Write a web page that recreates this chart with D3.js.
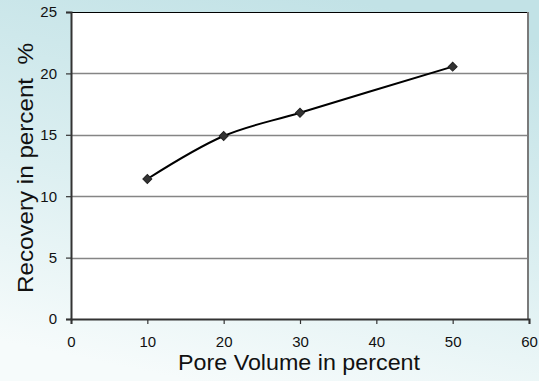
<!DOCTYPE html>
<html>
<head>
<meta charset="utf-8">
<script src="https://cdn.jsdelivr.net/npm/d3@7"></script>
<style>
  body { margin: 0; }
  svg { display: block; font-family: "Liberation Sans", Arial, sans-serif; }
</style>
</head>
<body>
<svg width="539" height="381"></svg>
<script>
// pore volume (x) vs recovery (y)
const poreVolume = [10, 20, 30, 50]
const recovery = [11.4, 14.9, 16.8, 20.55]
const xTicks = [0, 10, 20, 30, 40, 50, 60]
const yTicks = [0, 5, 10, 15, 20, 25]

const width = 539
const height = 381
const margin = { top: 12, right: 10, bottom: 62, left: 71 }
const w = width - margin.left - margin.right
const h = height - margin.top - margin.bottom

const svg = d3.select('svg')

// background gradient
const grad = svg.append('defs').append('linearGradient')
    .attr('id', 'bg')
    .attr('x1', '0.65').attr('y1', '0')
    .attr('x2', '0.35').attr('y2', '1')
grad.append('stop').attr('offset', '0').attr('stop-color', '#c2e2e6')
grad.append('stop').attr('offset', '0.55').attr('stop-color', '#dceff1')
grad.append('stop').attr('offset', '1').attr('stop-color', '#f6fbfb')
svg.append('rect').attr('width', width).attr('height', height).attr('fill', 'url(#bg)')

const x = d3.scaleLinear().domain([0, 60]).range([0, w])
const y = d3.scaleLinear().domain([0, 25]).range([h, 0])

const g = svg.append('g')
    .attr('transform', 'translate(' + margin.left + ',' + margin.top + ')')

g.append('rect').attr('width', w).attr('height', h).attr('fill', '#fff')

// gridlines
g.selectAll('.grid')
    .data(yTicks.filter(d => d > 0 && d < 25))
    .enter().append('line')
    .attr('x1', 0).attr('x2', w)
    .attr('y1', d => Math.round(y(d)) + 0.5).attr('y2', d => Math.round(y(d)) + 0.5)
    .attr('stroke', '#858585').attr('stroke-width', 1.5)

// plot border top / right
g.append('line').attr('x1', 0).attr('x2', w).attr('y1', 0.5).attr('y2', 0.5)
    .attr('stroke', '#000').attr('stroke-width', 1)
g.append('line').attr('x1', w - 1).attr('x2', w - 1).attr('y1', 0).attr('y2', h)
    .attr('stroke', '#7a7a7a').attr('stroke-width', 2)

// axes
const xAxis = g.append('g')
    .attr('transform', 'translate(0,' + h + ')')
    .call(d3.axisBottom(x).tickValues(xTicks).tickSize(5).tickPadding(12))
const yAxis = g.append('g')
    .call(d3.axisLeft(y).tickValues(yTicks).tickSize(5).tickPadding(9))

;[xAxis, yAxis].forEach(ax => {
    ax.select('.domain').attr('stroke', '#333').attr('stroke-width', 2)
    ax.selectAll('.tick line').attr('stroke', '#333').attr('stroke-width', 1.2)
    ax.selectAll('.tick text')
        .attr('fill', '#111')
        .style('font-size', '15px')
        .style('font-family', '"Liberation Sans", Arial, sans-serif')
})

// series line
const pts = poreVolume.map((v, i) => [v, recovery[i]])
const line = d3.line()
    .x(d => x(d[0]))
    .y(d => y(d[1]))
    .curve(d3.curveCatmullRom.alpha(0.5))
g.append('path')
    .datum(pts)
    .attr('d', line)
    .attr('fill', 'none')
    .attr('stroke', '#000')
    .attr('stroke-width', 2)

// diamond markers
g.selectAll('.marker')
    .data(pts)
    .enter().append('path')
    .attr('d', d3.symbol().type(d3.symbolSquare).size(40))
    .attr('transform', d => 'translate(' + x(d[0]) + ',' + y(d[1]) + ') rotate(45)')
    .attr('fill', '#333')
    .attr('stroke', '#222')
    .attr('stroke-width', 1)

// axis titles
svg.append('text')
    .attr('x', 178)
    .attr('y', 370)
    .attr('textLength', 242)
    .attr('lengthAdjust', 'spacingAndGlyphs')
    .style('font-size', '21.5px')
    .attr('fill', '#111')
    .text('Pore Volume in percent')

svg.append('text')
    .attr('transform', 'translate(33,293) rotate(-90)')
    .attr('textLength', 250)
    .attr('lengthAdjust', 'spacingAndGlyphs')
    .style('font-size', '21.5px')
    .attr('fill', '#111')
    .text('Recovery in percent\u00a0\u00a0%')
</script>
</body>
</html>
